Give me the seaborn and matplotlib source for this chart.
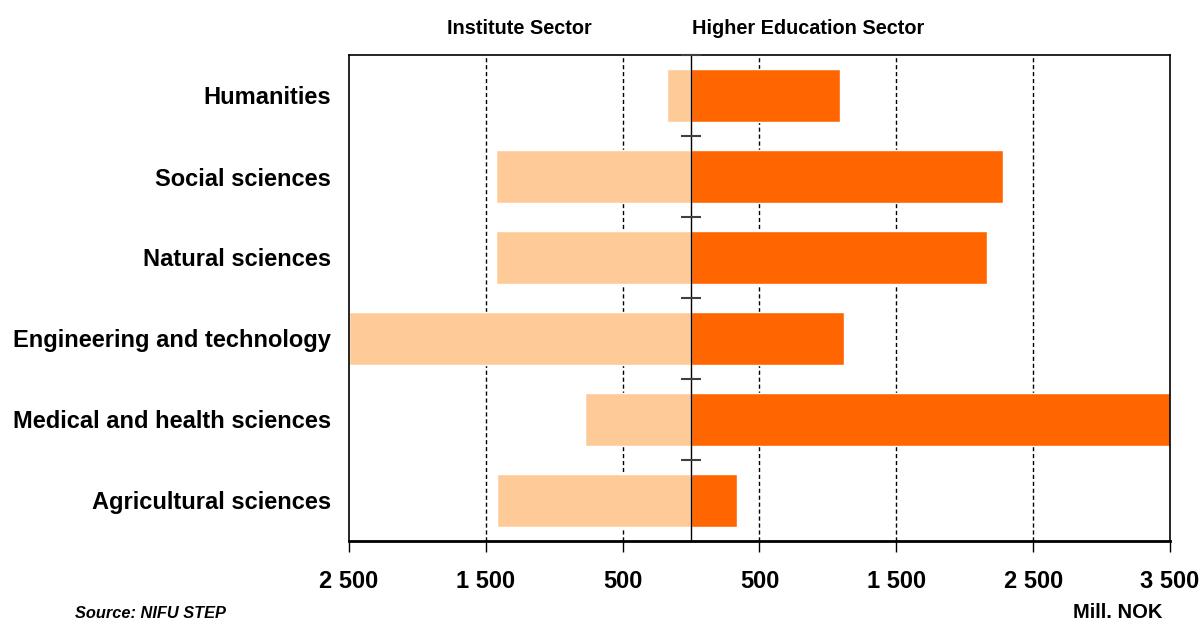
import numpy as np
import pandas as pd
import matplotlib
matplotlib.use('Agg')
import matplotlib.pyplot as plt
import seaborn as sns
from matplotlib.ticker import FuncFormatter

categories = ["Humanities", "Social sciences", "Natural sciences",
              "Engineering and technology", "Medical and health sciences",
              "Agricultural sciences"]
institute = [175, 1425, 1425, 2500, 775, 1420]
higher_ed = [1090, 2280, 2165, 1120, 3500, 335]
tick_values = [-2500, -1500, -500, 500, 1500, 2500, 3500]

sns.set_theme(style='white')
plt.rcParams['font.family'] = ['Liberation Sans', 'DejaVu Sans']
plt.rcParams['text.color'] = 'black'

fig = plt.figure(figsize=(12.01, 6.24), dpi=100)
ax = fig.add_axes([349/1201, 1-541/624, (1170-349)/1201, (541-55)/624])

df = pd.DataFrame({'cat': categories,
                   'inst': [-v for v in institute],
                   'he': higher_ed})
sns.barplot(data=df, x='inst', y='cat', orient='h', color='#FECB98',
            saturation=1, width=0.66, ax=ax, zorder=2)
sns.barplot(data=df, x='he', y='cat', orient='h', color='#FF6600',
            saturation=1, width=0.66, ax=ax, zorder=2)

ax.set_xlim(tick_values[0], tick_values[-1])
ax.set_ylim(len(categories) - 0.5, -0.5)

for v in tick_values[1:-1]:
    ax.axvline(v, ls=(0, (3, 2)), color='black', lw=1, zorder=1)
ax.axvline(0, color='black', lw=1, zorder=3)
bounds = np.arange(len(categories)) - 0.5
ax.plot([0] * len(bounds), bounds, marker='_', ms=15, mew=1.5,
        color='#404040', ls='none', zorder=4, clip_on=False)

for s in ['top', 'left', 'right']:
    ax.spines[s].set_color('black')
    ax.spines[s].set_linewidth(1.2)
ax.spines['bottom'].set_color('black')
ax.spines['bottom'].set_linewidth(2)

ax.set_xticks(tick_values)
ax.xaxis.set_major_formatter(FuncFormatter(lambda v, p: f"{abs(int(round(v))):,}".replace(',', ' ')))
ax.tick_params(axis='x', direction='out', length=8, width=1, color='black',
               labelsize=17, pad=13, bottom=True)
ax.tick_params(axis='y', length=0, pad=13, labelsize=17)
for lab in ax.get_xticklabels() + ax.get_yticklabels():
    lab.set_fontweight('bold')
    lab.set_color('black')
ax.set_xlabel('')
ax.set_ylabel('')

fig.text(519/1201, 1-29/624, 'Institute Sector', ha='center', va='center',
         fontsize=14.3, weight='bold', color='black')
fig.text(692/1201, 1-29/624, 'Higher Education Sector', ha='left', va='center',
         fontsize=14.3, weight='bold', color='black')
fig.text(75/1201, 1-613/624, 'Source: NIFU STEP', ha='left', va='center',
         fontsize=11.8, weight='bold', style='italic', color='black')
fig.text(1118/1201, 1-613/624, 'Mill. NOK', ha='center', va='center',
         fontsize=14.5, weight='bold', color='black')

fig.savefig('out.png', dpi=100)
